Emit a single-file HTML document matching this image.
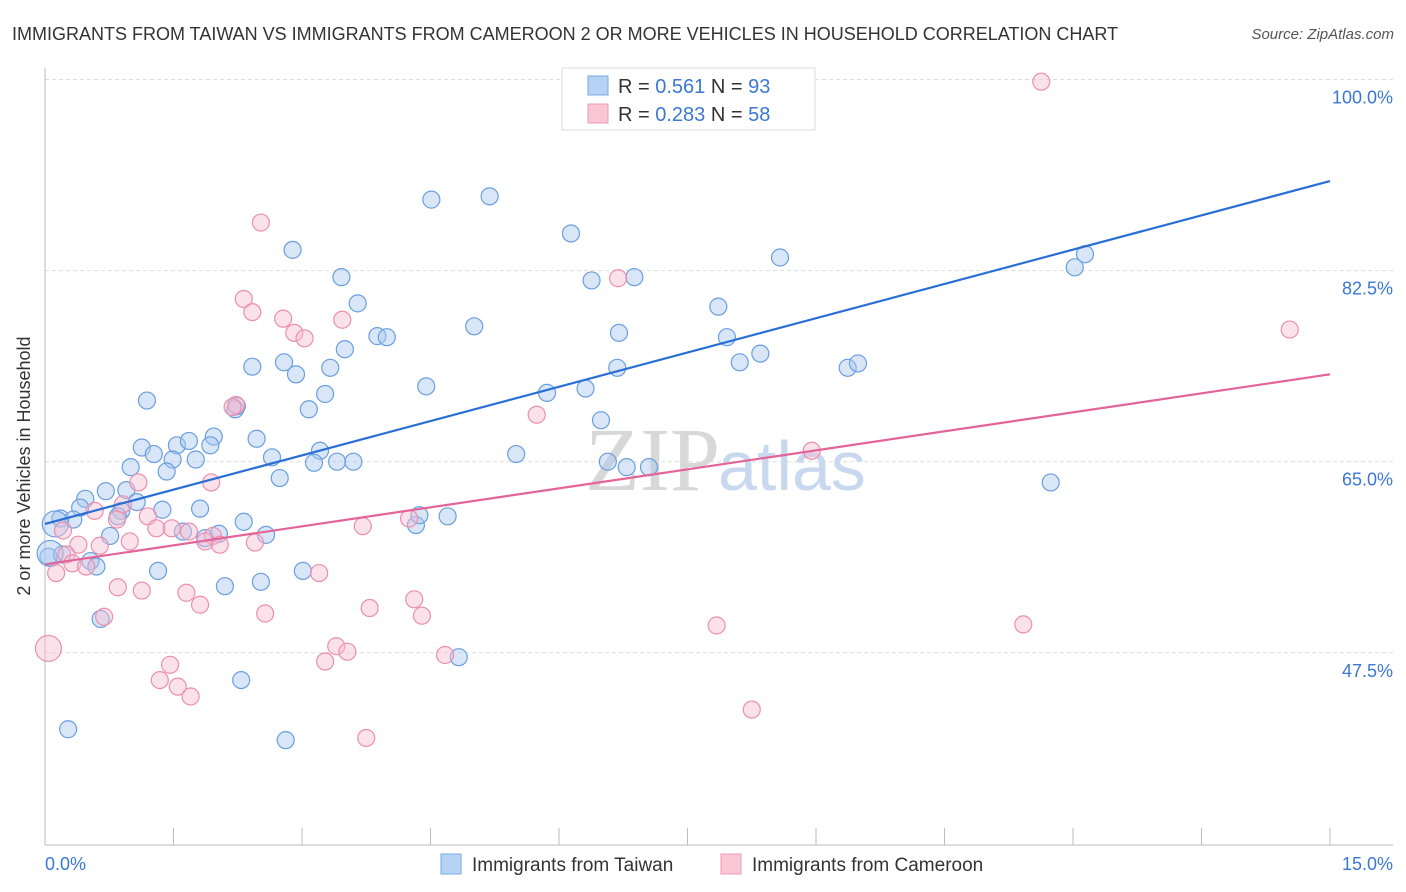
<!DOCTYPE html>
<html><head><meta charset="utf-8"><style>
body{margin:0;background:#fff;font-family:"Liberation Sans",sans-serif;}
svg{display:block}
</style></head><body>
<svg width="1406" height="892" xmlns="http://www.w3.org/2000/svg" id="chart">
<text x="12" y="40" font-size="18" fill="#333">IMMIGRANTS FROM TAIWAN VS IMMIGRANTS FROM CAMEROON 2 OR MORE VEHICLES IN HOUSEHOLD CORRELATION CHART</text>
<text x="1394" y="39" font-size="15" fill="#555" font-style="italic" text-anchor="end">Source: ZipAtlas.com</text>
<text x="20" y="456" font-size="18" fill="#333" transform="rotate(-90 30 456)" text-anchor="middle">2 or more Vehicles in Household</text>
<g id="grid"></g>
<text x="720" y="490" font-size="90" fill="#d8d8d8" text-anchor="end" font-family="Liberation Serif,serif">ZIP</text>
<text x="718" y="490" font-size="70" fill="#c8d8ee">atlas</text>
<g id="points"></g>
<g id="trends"></g>
<g>
<rect x="562" y="68" width="253" height="62" fill="#fff" stroke="#ddd"/>
<rect x="588" y="76" width="20" height="19" fill="#b6d3f5" stroke="#7aaae6"/>
<rect x="588" y="104" width="20" height="19" fill="#f9c6d6" stroke="#ee9ab5"/>
<text x="618" y="93" font-size="20" fill="#333">R = <tspan fill="#3a78d4">0.561</tspan>   N = <tspan fill="#3a78d4">93</tspan></text>
<text x="618" y="121" font-size="20" fill="#333">R = <tspan fill="#3a78d4">0.283</tspan>   N = <tspan fill="#3a78d4">58</tspan></text>
</g>
<text x="45" y="870" font-size="18" fill="#3a78d4">0.0%</text>
<text x="1393" y="870" font-size="18" fill="#3a78d4" text-anchor="end">15.0%</text>
<rect x="441" y="854" width="20" height="20" fill="#b6d3f5" stroke="#7aaae6"/>
<text x="472" y="871" font-size="19" fill="#333">Immigrants from Taiwan</text>
<rect x="721" y="854" width="20" height="20" fill="#f9c6d6" stroke="#ee9ab5"/>
<text x="752" y="871" font-size="19" fill="#333">Immigrants from Cameroon</text>
</svg>
<script>
const yTicks=[100,82.5,65,47.5];
const yTickLabels=["100.0%","82.5%","65.0%","47.5%"];
const xTicks=[0,1.5,3,4.5,6,7.5,9,10.5,12,13.5,15];
const taiwanX=[6.30,4.51,5.19,6.14,2.89,8.58,12.14,12.02,3.46,6.38,6.88,3.65,7.86,5.01,3.88,3.99,6.70,7.96,3.50,8.35,8.11,2.42,2.79,2.93,3.33,6.68,9.37,9.49,4.45,3.27,5.86,6.31,1.19,3.08,2.22,2.24,6.49,1.13,1.54,1.68,1.97,1.93,2.47,1.27,1.49,1.76,1.42,1.00,2.65,3.21,3.41,3.60,3.14,5.50,6.57,6.79,7.05,2.74,11.74,0.71,0.95,0.47,0.41,1.07,0.89,1.37,1.81,0.18,0.33,0.85,2.32,4.33,4.37,4.70,0.76,1.61,1.87,2.03,2.58,0.04,0.20,0.53,0.60,1.32,2.10,2.52,3.01,0.65,4.83,2.29,0.27,2.81,0.06,0.12];
const taiwanY=[99.8,89.0,89.3,85.9,84.4,83.7,84.0,82.8,81.9,81.6,81.9,79.5,79.2,77.4,76.5,76.4,76.8,76.4,75.3,74.9,74.1,73.7,74.1,73.0,73.6,73.6,73.6,74.0,71.9,71.2,71.3,71.7,70.6,69.8,69.8,70.1,68.8,66.3,66.5,66.9,67.3,66.5,67.1,65.7,65.2,65.2,64.1,64.5,65.4,66.0,65.0,65.0,64.9,65.7,65.0,64.5,64.5,63.5,63.1,62.3,62.4,61.6,60.8,61.3,60.5,60.6,60.7,59.8,59.7,60.0,59.5,59.2,60.1,60.0,58.2,58.6,58.0,58.4,58.3,56.3,56.5,55.9,55.4,55.0,53.6,54.0,55.0,50.6,47.1,45.0,40.5,39.5,56.6,59.3];
const cameroonX=[11.63,2.52,2.32,2.42,2.78,2.91,3.03,3.47,6.69,14.53,2.23,2.19,5.74,8.95,1.94,1.09,0.91,0.58,1.20,1.30,1.48,0.84,1.68,1.96,1.87,2.04,2.45,3.71,4.25,0.99,0.64,0.39,0.25,0.21,0.32,0.13,0.48,0.85,1.13,1.65,1.81,2.57,3.20,3.79,4.31,4.40,0.69,7.84,11.42,3.40,3.53,3.27,4.67,1.46,1.34,1.55,1.70,8.25,3.75,0.04];
const cameroonY=[99.8,86.9,79.9,78.7,78.1,76.8,76.3,78.0,81.8,77.1,70.2,70.0,69.3,66.0,63.1,63.1,61.1,60.5,60.0,58.9,58.9,59.7,58.6,58.2,57.7,57.4,57.6,59.1,59.8,57.7,57.3,57.4,56.5,58.7,55.7,54.8,55.4,53.5,53.2,53.0,51.9,51.1,54.8,51.6,52.4,50.9,50.8,50.0,50.1,48.1,47.6,46.7,47.3,46.4,45.0,44.4,43.5,42.3,39.7,47.9];
const taiwanTrend=[59.3,90.7];
const cameroonTrend=[55.6,73.0];
const NS="http://www.w3.org/2000/svg";
const X0=45,X1=1330,Y100=79.5,PPU=10.92;
const xs=v=>X0+v/15*(X1-X0);
const ys=v=>Y100+(100-v)*PPU;
function mk(tag,attrs,parent){const e=document.createElementNS(NS,tag);for(const k in attrs)e.setAttribute(k,attrs[k]);parent.appendChild(e);return e;}
const grid=document.getElementById('grid');
yTicks.forEach((t,i)=>{
  const l=mk('line',{x1:X0,x2:1393,y1:ys(t),y2:ys(t),stroke:'#ddd','stroke-dasharray':'4 3'},grid);
  
  
  const tx=mk('text',{x:1393,y:ys(t)+24,'font-size':18,fill:'#3a78d4','text-anchor':'end'},grid);
  tx.textContent=yTickLabels[i];
  
  
});
const ax=mk('line',{x1:X0,x2:1393,y1:845,y2:845,stroke:'#bbb'},grid);


const ay=mk('line',{x1:X0,x2:X0,y1:68,y2:845,stroke:'#bbb'},grid);


xTicks.forEach(t=>{
  const l=mk('line',{x1:xs(t),x2:xs(t),y1:828,y2:845,stroke:'#bbb'},grid);
  
  
});
const pts=document.getElementById('points');
function drawSeries(X,Y,fill,stroke,name,bigFrom){
  X.forEach((x,i)=>{
    const big=i>=bigFrom;
    const c=mk('circle',{cx:xs(x),cy:ys(Y[i]),r:big?13:8.5,fill:fill,'fill-opacity':0.45,stroke:stroke,'stroke-width':1.2},pts);
    
    
  });
}
drawSeries(taiwanX,taiwanY,'#a9c8f0','#6a9fe0','taiwan-point',taiwanX.length-2);
drawSeries(cameroonX,cameroonY,'#f7bcd0','#ec8fae','cameroon-point',cameroonX.length-1);
const tr=document.getElementById('trends');
const t1=mk('line',{x1:xs(0),y1:ys(taiwanTrend[0]),x2:xs(15),y2:ys(taiwanTrend[1]),stroke:'#2a6fd6','stroke-width':2.2},tr);


const t2=mk('line',{x1:xs(0),y1:ys(cameroonTrend[0]),x2:xs(15),y2:ys(cameroonTrend[1]),stroke:'#e4649a','stroke-width':2.2},tr);


</script>
</body></html>
